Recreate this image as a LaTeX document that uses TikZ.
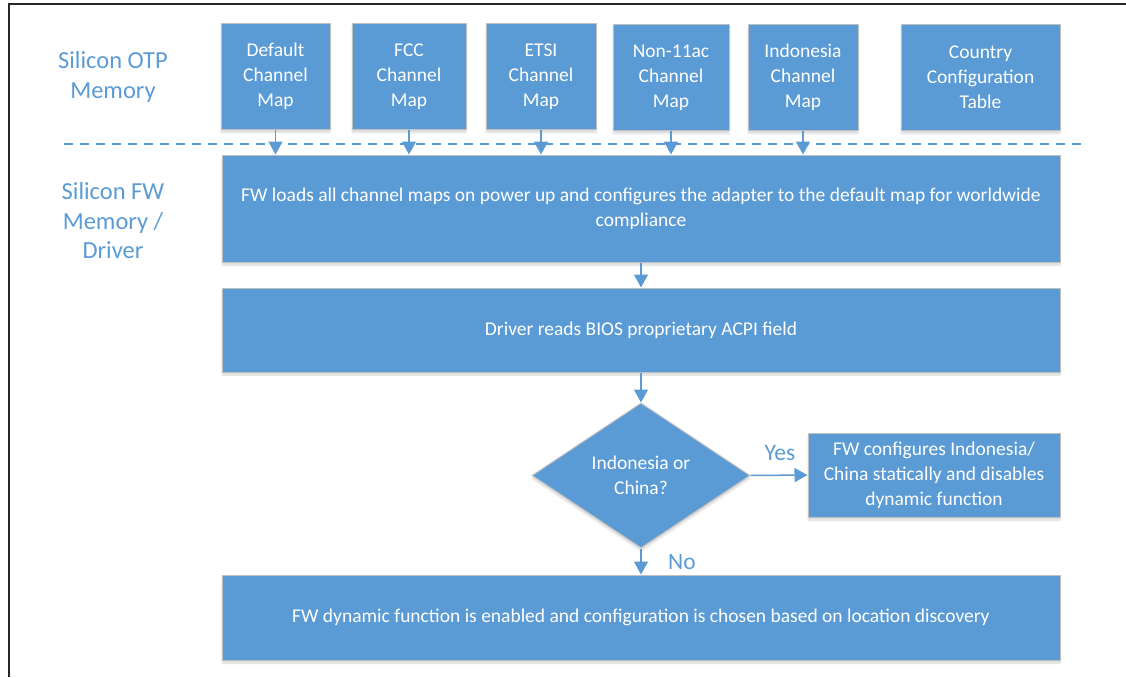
\documentclass[tikz,border=0pt]{standalone}
\usepackage{fontspec}
\setmainfont{Carlito}
\usetikzlibrary{arrows.meta,shapes.geometric,shadows.blur}
\definecolor{blu}{HTML}{5B9BD5}
\definecolor{bord}{HTML}{C0C0C0}
\tikzset{
  box/.style={draw=bord,line width=1pt,fill=blu,text=white,font=\fontsize{19.5}{25}\selectfont,align=center,inner sep=0pt,
    blur shadow={shadow xshift=0pt,shadow yshift=-3pt,shadow blur steps=5,shadow opacity=15}},
  lab/.style={text=blu,font=\fontsize{24.5}{29.5}\selectfont,align=center},
  arr/.style={draw=blu,line width=1.5pt,-{Triangle[width=14pt,length=13pt]}},
  yn/.style={text=blu,font=\fontsize{23.5}{24}\selectfont},
}
\begin{document}
\begin{tikzpicture}[x=1pt,y=-1pt]
\useasboundingbox (0,0) rectangle (1126,677);
\draw[line width=1.2pt,black!85] (9,677) -- (9,4) -- (1126,4);
% top boxes
\node[box,minimum width=109pt,minimum height=106pt] (def) at (275.5,76.5) {Default\\Channel\\Map};
\node[box,minimum width=114pt,minimum height=106pt] (fcc) at (409,76.5) {FCC\\Channel\\Map};
\node[box,minimum width=110pt,minimum height=106pt] (etsi) at (541,76.5) {ETSI\\Channel\\Map};
\node[box,minimum width=116pt,minimum height=106pt] (non) at (671,77.5) {Non-11ac\\Channel\\Map};
\node[box,minimum width=110pt,minimum height=106pt] (ind) at (803,77.5) {Indonesia\\Channel\\Map};
\node[box,minimum width=159pt,minimum height=106pt] (cty) at (980.5,77.5) {Country\\Configuration\\Table};
% labels
\node[lab] (otp) at (113,77) {Silicon OTP\\Memory};
\node[lab] (fwm) at (113,221) {Silicon FW\\Memory /\\Driver};
% dashed line
\coordinate (dl) at (64,144);
\coordinate (dr) at (1082,144);
\draw[blu,line width=2pt,dash pattern=on 9pt off 7pt] (dl) -- (dr);
% main boxes
\node[box,minimum width=838pt,minimum height=107pt] (fw) at (641,208.5) {FW loads all channel maps on power up and configures the adapter to the default map for worldwide\\compliance};
\node[box,minimum width=838pt,minimum height=84pt] (drv) at (641,330) {Driver reads BIOS proprietary ACPI field};
\node[diamond,draw=bord,line width=1pt,fill=blu,text=white,font=\fontsize{19.5}{25}\selectfont,align=center,inner sep=0pt,minimum width=218pt,minimum height=145pt,aspect=1.5,
    blur shadow={shadow xshift=0pt,shadow yshift=-3pt,shadow blur steps=5,shadow opacity=15}] (dec) at (641,475.5) {Indonesia or\\China?};
\node[box,minimum width=252pt,minimum height=84pt] (yes) at (934,475) {FW configures Indonesia/\\China statically and disables\\dynamic function};
\node[box,minimum width=838pt,minimum height=85pt] (dyn) at (641,617.5) {FW dynamic function is enabled and configuration is chosen based on location discovery};
% arrows
\foreach \n in {def,fcc,etsi,non,ind}{
  \draw[arr] (\n.south) -- (\n.south |- fw.north);
}
\draw[arr] (fw.south -| drv.north) -- (drv.north);
\draw[arr] (drv.south) -- (dec.north);
\draw[arr] (dec.east) -- (yes.west);
\draw[arr] (dec.south) -- (dyn.north);
\node[yn] (ylab) at (780,453) {Yes};
\node[yn] (nlab) at (682,562) {No};
\end{tikzpicture}
\end{document}
